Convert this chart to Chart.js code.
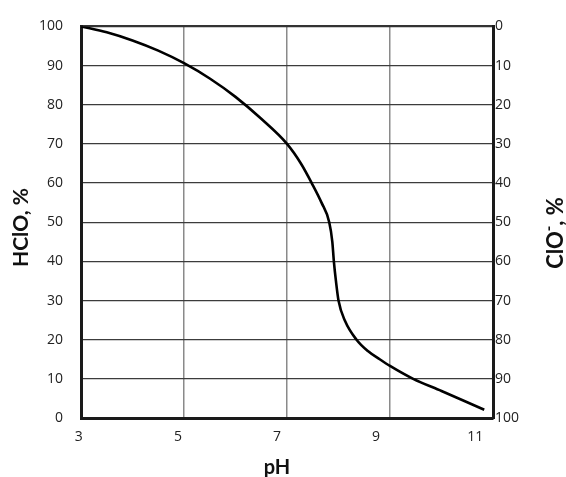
<!DOCTYPE html>
<html>
<head>
<meta charset="utf-8">
<script src="https://cdn.jsdelivr.net/npm/chart.js@4.4.1/dist/chart.umd.min.js"></script>
<style>
  html, body { margin: 0; padding: 0; background: #ffffff; }
  #wrap { width: 566px; height: 477px; }
</style>
</head>
<body>
<div id="wrap"><canvas id="c" width="566" height="477"></canvas></div>
<script>
// pH points along the curve and HClO share (%)
const phValues = [3, 3.5, 4, 4.5, 5, 5.5, 6, 6.5, 7, 7.27, 7.48, 7.67, 7.82, 7.88, 7.91, 7.95, 8.0, 8.13, 8.35, 8.57, 8.8, 9.0, 9.45, 10.0, 10.4, 10.83]
const hcloPercent = [100, 98.5, 96.4, 93.8, 90.6, 86.7, 82.0, 76.4, 70, 65, 60, 55, 50, 45, 40, 35, 30, 24.7, 20, 17.1, 15.0, 13.3, 10, 6.9, 4.6, 2.1]

// tick labels
const xTicks = [3, 5, 7, 9, 11]
const yTicks = [0, 10, 20, 30, 40, 50, 60, 70, 80, 90, 100]

const points = phValues.map((ph, i) => ({ x: ph, y: hcloPercent[i] }))

Chart.defaults.font.family = 'Open Sans'
Chart.defaults.color = '#222'

// axis titles: the right one reads bottom-to-top, with a raised minus
const axisTitles = {
  id: 'axisTitles',
  afterDraw(chart) {
    const ctx = chart.ctx
    ctx.save()
    ctx.fillStyle = '#111'
    ctx.textBaseline = 'alphabetic'

    ctx.font = 'bold 20px Lato'
    ctx.textAlign = 'center'
    ctx.fillText('pH', 277, 474)

    ctx.save()
    ctx.translate(28, 227.5)
    ctx.rotate(-Math.PI / 2)
    ctx.font = 'bold 21px Lato'
    ctx.fillText('HClO, %', 0, 0)
    ctx.restore()

    ctx.save()
    ctx.translate(563, 233)
    ctx.rotate(-Math.PI / 2)
    ctx.textAlign = 'left'
    const big = 'bold 22px Lato'
    const small = 'bold 15px Lato'
    ctx.font = big
    const w1 = ctx.measureText('ClO').width
    const w3 = ctx.measureText(', %').width
    ctx.font = small
    const w2 = ctx.measureText('-').width
    let x = -(w1 + w2 + w3) / 2
    ctx.font = big
    ctx.fillText('ClO', x, 0)
    x += w1
    ctx.font = small
    ctx.fillText('-', x, -9)
    x += w2
    ctx.font = big
    ctx.fillText(', %', x, 0)
    ctx.restore()

    ctx.restore()
  }
}

new Chart(document.getElementById('c'), {
  type: 'line',
  data: {
    datasets: [{
      data: points,
      borderColor: '#000000',
      borderWidth: 2.6,
      pointRadius: 0,
      cubicInterpolationMode: 'monotone',
      fill: false
    }]
  },
  options: {
    responsive: false,
    animation: false,
    devicePixelRatio: 1,
    layout: { padding: { top: 20, left: 0, right: 0, bottom: 0 } },
    plugins: { legend: { display: false }, tooltip: { enabled: false } },
    scales: {
      x: {
        type: 'linear',
        position: 'bottom',
        weight: 0,
        min: 3,
        max: 11,
        afterBuildTicks: (scale) => { scale.ticks = xTicks.map(v => ({ value: v })) },
        afterFit: (scale) => { scale.height = 0 },
        ticks: { display: false },
        grid: { color: '#8a8a8a', lineWidth: 1.5, drawTicks: false },
        border: { display: true, color: '#1a1a1a', width: 3 }
      },
      // label row under the plot (the labels sit a little off the grid lines)
      xLabels: {
        type: 'linear',
        position: 'bottom',
        weight: 1,
        min: 3.044,
        max: 11.36,
        afterBuildTicks: (scale) => { scale.ticks = xTicks.map(v => ({ value: v })) },
        afterFit: (scale) => { scale.height = 59 },
        ticks: { autoSkip: false, maxRotation: 0, padding: 11, font: { size: 14 }, color: '#222' },
        grid: { display: false, drawTicks: false },
        border: { display: false }
      },
      y: {
        position: 'left',
        min: 0,
        max: 100,
        afterBuildTicks: (scale) => { scale.ticks = yTicks.map(v => ({ value: v })) },
        afterFit: (scale) => { scale.width = 81 },
        ticks: { padding: 18, font: { size: 14 }, color: '#222' },
        grid: {
          drawTicks: false,
          color: (c) => c.tick && c.tick.value === 100 ? '#333333' : '#3c3c3c',
          lineWidth: (c) => c.tick && c.tick.value === 100 ? 2.2 : 1.2
        },
        border: { display: true, color: '#1a1a1a', width: 3 }
      },
      y2: {
        position: 'right',
        min: 0,
        max: 100,
        reverse: true,
        afterBuildTicks: (scale) => { scale.ticks = yTicks.map(v => ({ value: v })) },
        afterFit: (scale) => { scale.width = 73 },
        ticks: { padding: 2, font: { size: 14 }, color: '#222' },
        grid: { drawOnChartArea: false, drawTicks: false },
        border: { display: true, color: '#1a1a1a', width: 3 }
      }
    }
  },
  plugins: [axisTitles]
})
</script>
</body>
</html>
